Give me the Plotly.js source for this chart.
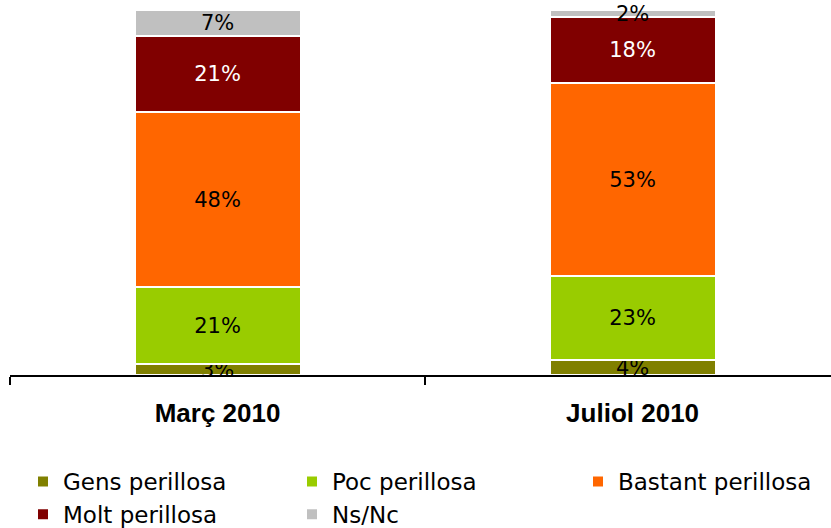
<!DOCTYPE html>
<html>
<head>
<meta charset="utf-8">
<script src="https://cdn.plot.ly/plotly-3.0.1.min.js"></script>
<style>html,body{margin:0;padding:0;background:#fff;}#chart{width:831px;height:528px;}</style>
</head>
<body>
<div id="chart"></div>
<script>
const categories = ["Març 2010", "Juliol 2010"];
const seriesNames = ["Gens perillosa", "Poc perillosa", "Bastant perillosa", "Molt perillosa", "Ns/Nc"];
const gens = [3, 4];
const poc = [21, 23];
const bastant = [48, 53];
const molt = [21, 18];
const nsnc = [7, 2];
const seriesValues = [gens, poc, bastant, molt, nsnc];
const colors = ["#808000", "#99CC00", "#FF6600", "#800000", "#C0C0C0"];
const labelColors = ["#000000", "#000000", "#000000", "#FFFFFF", "#000000"];
const legendIds = ["legend", "legend2", "legend3", "legend", "legend2"];

const labelFont = "'DejaVu Sans', sans-serif";

const traces = seriesNames.map((name, i) => ({
  type: "bar",
  name: name,
  x: categories,
  y: seriesValues[i],
  marker: {color: colors[i], line: {color: "#FFFFFF", width: 2}},
  texttemplate: "%{y}%",
  textposition: "inside",
  insidetextanchor: "middle",
  textangle: 0,
  constraintext: "none",
  cliponaxis: false,
  insidetextfont: {family: labelFont, size: 21, color: labelColors[i]},
  hoverinfo: "skip",
  legend: legendIds[i],
  legendgroup: "g" + i
}));

const legendCommon = {
  orientation: "v",
  xref: "container", yref: "container",
  xanchor: "left", yanchor: "top",
  bgcolor: "rgba(0,0,0,0)",
  borderwidth: 0,
  tracegroupgap: 7,
  traceorder: "normal",
  font: {family: labelFont, size: 23, color: "#000000"}
};

const layout = {
  width: 831, height: 528,
  margin: {l: 10, r: 0, t: 10, b: 153, autoexpand: false},
  barmode: "stack",
  bargap: 0.6,
  paper_bgcolor: "#FFFFFF",
  plot_bgcolor: "#FFFFFF",
  showlegend: true,
  xaxis: {
    type: "category",
    range: [-0.5, 1.478],
    showline: true, linecolor: "#000000", linewidth: 2,
    ticks: "outside", tickson: "boundaries", ticklen: 8, tickcolor: "#000000", tickwidth: 2,
    showgrid: false, zeroline: false,
    tickangle: 0,
    tickfont: {family: "'Liberation Sans', Arial, sans-serif", size: 26, color: "#000000", weight: "bold"},
    ticklabelstandoff: 14
  },
  yaxis: {range: [0, 100], visible: false, fixedrange: true},
  legend: Object.assign({}, legendCommon, {x: 23/831, y: 1 - 460/528}),
  legend2: Object.assign({}, legendCommon, {x: 292/831, y: 1 - 460/528}),
  legend3: Object.assign({}, legendCommon, {x: 578/831, y: 1 - 460/528})
};

Plotly.newPlot("chart", traces, layout, {displayModeBar: false, staticPlot: true});
</script>
</body>
</html>
